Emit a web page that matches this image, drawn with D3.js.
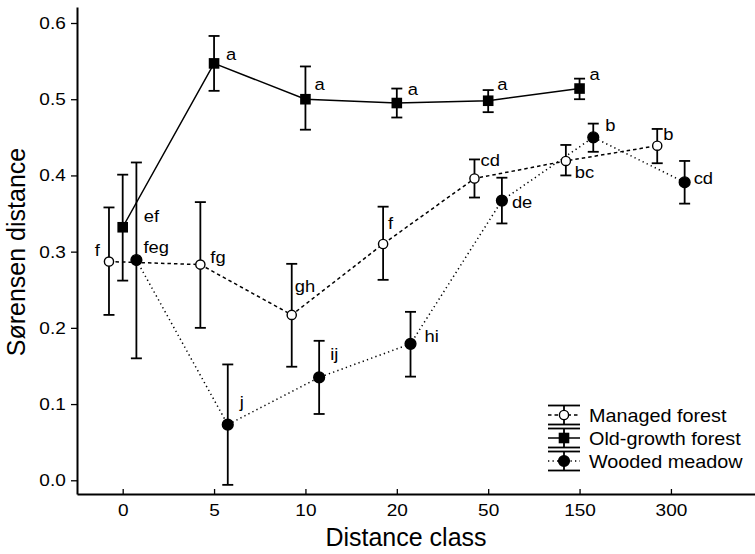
<!DOCTYPE html>
<html>
<head>
<meta charset="utf-8">
<script src="https://cdn.jsdelivr.net/npm/d3@7"></script>
<style>
  body { margin: 0; background: #fff; }
  text { font-family: "Liberation Sans", Arial, sans-serif; fill: #000; }
</style>
</head>
<body>
<div id="chart"></div>
<script>
// distance classes (x categories)
var classes = ["0", "5", "10", "20", "50", "150", "300"];
var yTicks = [0, 0.1, 0.2, 0.3, 0.4, 0.5, 0.6];

// Managed forest
var managedMean  = [0.287, 0.283, 0.217, 0.310, 0.396, 0.419, 0.439];
var managedUpper = [0.358, 0.365, 0.284, 0.359, 0.421, 0.440, 0.461];
var managedLower = [0.217, 0.200, 0.149, 0.263, 0.371, 0.400, 0.416];
var managedLetters = ["f", "fg", "gh", "f", "cd", "bc", "b"];

// Old-growth forest (no value at 300)
var oldMean  = [0.332, 0.547, 0.500, 0.495, 0.498, 0.514];
var oldUpper = [0.401, 0.583, 0.543, 0.514, 0.512, 0.527];
var oldLower = [0.262, 0.511, 0.460, 0.476, 0.483, 0.500];
var oldLetters = ["ef", "a", "a", "a", "a", "a"];

// Wooded meadow
var meadowMean  = [0.289, 0.073, 0.135, 0.179, 0.367, 0.450, 0.391];
var meadowUpper = [0.417, 0.152, 0.183, 0.221, 0.397, 0.468, 0.419];
var meadowLower = [0.160, -0.006, 0.087, 0.136, 0.337, 0.431, 0.363];
var meadowLetters = ["feg", "j", "ij", "hi", "de", "b", "cd"];

var width = 755, height = 554;

var svg = d3.select("#chart").append("svg")
    .attr("width", width)
    .attr("height", height);

var x = d3.scaleLinear().domain([-0.5, 6.92]).range([77, 755]),
    y = d3.scaleLinear().domain([-0.018, 0.621]).range([494, 7]);

// series drawing settings; label offsets are pixel nudges for the letters
var series = [
    { name: "Managed forest", mean: managedMean, upper: managedUpper, lower: managedLower,
      letters: managedLetters, shift: -0.15, dash: "3.5,3", shape: "circle", fill: "#fff",
      lab: [[-9, -6, "end"], [10, -2], [3, -23], [5, -15], [6, -12], [9, 17], [6, -6]] },
    { name: "Old-growth forest", mean: oldMean, upper: oldUpper, lower: oldLower,
      letters: oldLetters, shift: 0, dash: null, shape: "square", fill: "#000",
      lab: [[21, -5], [12, -3], [9, -9], [11, -8], [9, -11], [10, -9]] },
    { name: "Wooded meadow", mean: meadowMean, upper: meadowUpper, lower: meadowLower,
      letters: meadowLetters, shift: 0.15, dash: "1.3,3.2", shape: "circle", fill: "#000",
      lab: [[7, -7], [12, -17], [11, -17], [14, -2], [10, 7], [12, -6], [9, 2]] }
];

// axes
var yAxis = svg.append("g")
    .attr("transform", "translate(77,0)")
    .call(d3.axisLeft(y).tickValues(yTicks).tickFormat(d3.format(".1f"))
        .tickSizeInner(6).tickSizeOuter(0).tickPadding(4));

var xAxis = svg.append("g")
    .attr("transform", "translate(0,494)")
    .call(d3.axisBottom(x).tickValues(d3.range(classes.length)).tickFormat(i => classes[i])
        .tickSizeInner(-5).tickSizeOuter(0).tickPadding(10));

[yAxis, xAxis].forEach(function (a) {
    a.select(".domain").attr("stroke-width", 2);
    a.selectAll(".tick line").attr("stroke-width", 1.3);
    a.selectAll(".tick text")
        .style("font-size", "17px")
        .attr("transform", "scale(1.12,1)");
});

svg.append("text")
    .attr("transform", "translate(25,252) rotate(-90)")
    .attr("text-anchor", "middle")
    .style("font-size", "25px")
    .text("Sørensen distance");

svg.append("text")
    .attr("x", 406).attr("y", 546)
    .attr("text-anchor", "middle")
    .style("font-size", "25px")
    .text("Distance class");

var line = d3.line()
    .x(d => x(d.i + d.s))
    .y(d => y(d.v));

function pts(s) {
    return s.mean.map((v, i) => ({ i: i, s: s.shift, v: v, hi: s.upper[i], lo: s.lower[i], l: s.letters[i], o: s.lab[i] }));
}

function marker(g, s, cx, cy) {
    if (s.shape === "square") {
        g.append("rect")
            .attr("x", cx - 5.3).attr("y", cy - 5.3)
            .attr("width", 10.6).attr("height", 10.6)
            .attr("fill", "#000");
    } else {
        g.append("circle")
            .attr("cx", cx).attr("cy", cy)
            .attr("r", s.fill === "#fff" ? 4.6 : 5.4)
            .attr("fill", s.fill)
            .attr("stroke", "#000")
            .attr("stroke-width", 1.4);
    }
}

// connecting lines
series.forEach(function (s) {
    svg.append("path")
        .datum(pts(s))
        .attr("d", line)
        .attr("fill", "none")
        .attr("stroke", "#000")
        .attr("stroke-width", 1.5)
        .attr("stroke-dasharray", s.dash);
});

// error bars, markers, letters
series.forEach(function (s) {
    var g = svg.append("g");
    pts(s).forEach(function (d) {
        var cx = x(d.i + d.s), cy = y(d.v);
        g.append("line")
            .attr("x1", cx).attr("x2", cx)
            .attr("y1", y(d.hi)).attr("y2", y(d.lo))
            .attr("stroke", "#000").attr("stroke-width", 1.8);
        [d.hi, d.lo].forEach(function (e) {
            g.append("line")
                .attr("x1", cx - 5.5).attr("x2", cx + 5.5)
                .attr("y1", y(e)).attr("y2", y(e))
                .attr("stroke", "#000").attr("stroke-width", 1.8);
        });
        marker(g, s, cx, cy);
        g.append("text")
            .attr("transform", "translate(" + (cx + d.o[0]) + "," + (cy + d.o[1]) + ") scale(1.08,1)")
            .attr("text-anchor", d.o[2] || "start")
            .style("font-size", "17px")
            .text(d.l);
    });
});

// legend
var legend = svg.append("g");
series.forEach(function (s, k) {
    var cy = 415 + k * 23, cx = 564;
    var row = legend.append("g");
    row.append("line")
        .attr("x1", cx - 16).attr("x2", cx + 16)
        .attr("y1", cy).attr("y2", cy)
        .attr("stroke", "#000").attr("stroke-width", 1.5)
        .attr("stroke-dasharray", s.dash);
    row.append("line")
        .attr("x1", cx).attr("x2", cx)
        .attr("y1", cy - 9.5).attr("y2", cy + 9.5)
        .attr("stroke", "#000").attr("stroke-width", 1.8);
    [-9.5, 9.5].forEach(function (o) {
        row.append("line")
            .attr("x1", cx - 16).attr("x2", cx + 16)
            .attr("y1", cy + o).attr("y2", cy + o)
            .attr("stroke", "#000").attr("stroke-width", 1.8);
    });
    marker(row, s, cx, cy);
    row.append("text")
        .attr("transform", "translate(589," + (cy + 7) + ") scale(1.1,1)")
        .style("font-size", "18px")
        .text(s.name);
});
</script>
</body>
</html>
